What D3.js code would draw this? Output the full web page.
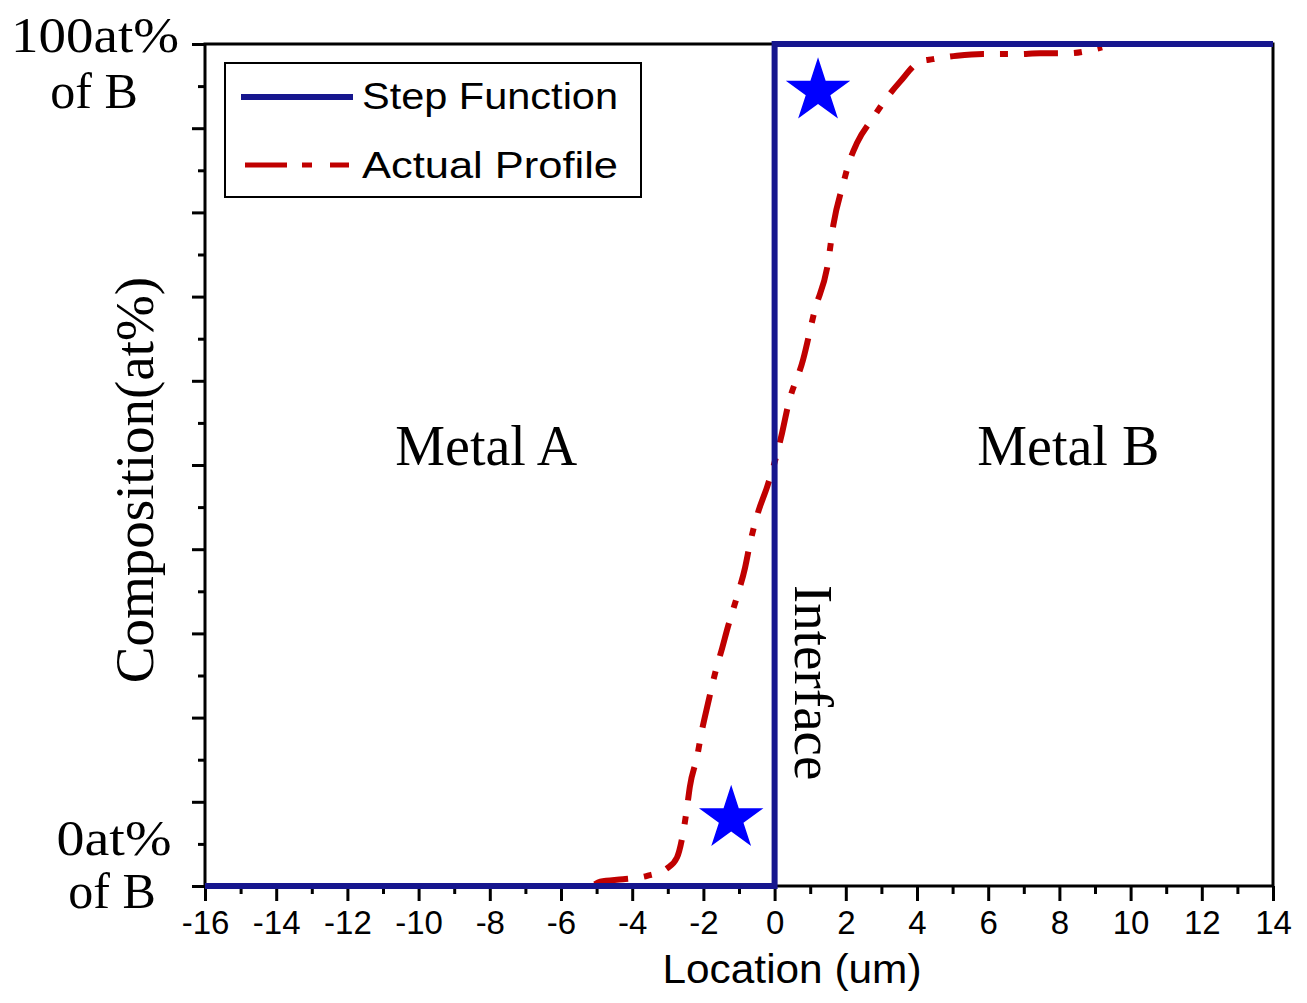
<!DOCTYPE html>
<html>
<head>
<meta charset="utf-8">
<script src="https://cdn.jsdelivr.net/npm/d3@7"></script>
<style>
  body { margin: 0; background: #fff; }
  .serif { font-family: "Liberation Serif", "DejaVu Serif", serif; fill: #000; }
  .sans { font-family: "Liberation Sans", Arial, sans-serif; fill: #000; }
</style>
</head>
<body>
<div id="chart"></div>
<script>
// step function (ideal interface)
var stepX = [-16, 0, 0, 14];
var stepY = [0, 0, 100, 100];

// actual diffusion profile
var profileX = [-5.05, -4.9, -4.26, -3.58, -3.02, -2.74, -2.57, -2.46, -2.38, -2.18, -2.04, -1.87, -1.67,
  -1.47, -1.31, -1.06, -0.83, -0.69, -0.47, -0.21, 0.07, 0.21, 0.38, 0.8, 1.13, 1.5, 1.65, 1.92, 2.09,
  2.31, 2.76, 3.15, 3.52, 4.08, 4.45, 5.12, 5.85, 6.81, 7.46, 8.22, 9.2];
var profileY = [0.2, 0.5, 0.8, 1.2, 2.1, 3.4, 6.3, 9.3, 11.8, 15.3, 18.5, 21.7, 25.3,
  28.3, 30.8, 34.3, 37.8, 40.7, 44.3, 47.4, 51.4, 53.8, 57.1, 62.5, 68.4, 74, 78.5, 83.3, 85.9,
  88.2, 91.2, 93.6, 95.5, 97.9, 98.2, 98.6, 98.8, 98.8, 98.9, 98.9, 99.6];

var starX = [1.22, -1.22];
var starY = [94.4, 8.0];

var xTicks = [-16, -14, -12, -10, -8, -6, -4, -2, 0, 2, 4, 6, 8, 10, 12, 14];
var xMinor = [-15, -13, -11, -9, -7, -5, -3, -1, 1, 3, 5, 7, 9, 11, 13];
var yMajor = [0, 10, 20, 30, 40, 50, 60, 70, 80, 90, 100];
var yMinor = [5, 15, 25, 35, 45, 55, 65, 75, 85, 95];

var regionNames = ["Metal A", "Metal B"];
var regionX = [-8.1, 8.25];
var regionY = [50, 50];

var legendNames = ["Step Function", "Actual Profile"];

var width = 1307;
var height = 1003;
var margin = {left: 205, top: 44, right: 34, bottom: 117};

var blue = "#16168e";
var red = "#c00000";
var dash = "34,16,8,16";

var svg = d3.select("#chart")
  .append("svg")
  .attr("width", width)
  .attr("height", height);

var x = d3.scaleLinear()
  .domain([-16, 14])
  .range([margin.left, width - margin.right]);

var y = d3.scaleLinear()
  .domain([0, 100])
  .range([height - margin.bottom, margin.top]);

var bottom = y(0);

// x axis: major with labels, minor without
var xAxis = svg.append("g")
  .attr("transform", "translate(0," + bottom + ")")
  .call(d3.axisBottom(x).tickValues(xTicks).tickSize(15).tickPadding(10).tickFormat(function(d) { return "" + d; }));
xAxis.select(".domain").remove();
xAxis.selectAll("line").attr("stroke-width", 3);
xAxis.selectAll("text")
  .attr("class", "sans")
  .attr("font-size", 33)
  .attr("font-family", null);

var xAxisMinor = svg.append("g")
  .attr("transform", "translate(0," + bottom + ")")
  .call(d3.axisBottom(x).tickValues(xMinor).tickSize(8).tickFormat(""));
xAxisMinor.select(".domain").remove();
xAxisMinor.selectAll("line").attr("stroke-width", 3);

// y axis ticks, no labels
var yAxis = svg.append("g")
  .attr("transform", "translate(" + margin.left + ",0)")
  .call(d3.axisLeft(y).tickValues(yMajor).tickSize(13).tickFormat(""));
yAxis.select(".domain").remove();
yAxis.selectAll("line").attr("stroke-width", 3);

var yAxisMinor = svg.append("g")
  .attr("transform", "translate(" + margin.left + ",0)")
  .call(d3.axisLeft(y).tickValues(yMinor).tickSize(7).tickFormat(""));
yAxisMinor.select(".domain").remove();
yAxisMinor.selectAll("line").attr("stroke-width", 3);

// frame
svg.append("rect")
  .attr("x", x(-16))
  .attr("y", y(100))
  .attr("width", x(14) - x(-16))
  .attr("height", y(0) - y(100))
  .attr("fill", "none")
  .attr("stroke", "#000")
  .attr("stroke-width", 3);

// lines
var line = d3.line()
  .x(function(d) { return x(d[0]); })
  .y(function(d) { return y(d[1]); });

svg.append("path")
  .datum(d3.zip(profileX, profileY))
  .attr("d", line.curve(d3.curveMonotoneX))
  .attr("fill", "none")
  .attr("stroke", red)
  .attr("stroke-width", 6)
  .attr("stroke-dasharray", dash);

svg.append("path")
  .datum(d3.zip(stepX, stepY))
  .attr("d", line.curve(d3.curveLinear))
  .attr("fill", "none")
  .attr("stroke", blue)
  .attr("stroke-width", 6);

// stars
svg.selectAll(".star")
  .data(d3.zip(starX, starY))
  .enter()
  .append("path")
  .attr("class", "star")
  .attr("d", d3.symbol().type(d3.symbolStar).size(1290))
  .attr("transform", function(d) { return "translate(" + x(d[0]) + "," + y(d[1]) + ")"; })
  .attr("fill", "#0000ff");

// region labels
svg.selectAll(".region")
  .data(regionNames)
  .enter()
  .append("text")
  .attr("class", "serif")
  .attr("x", function(d, i) { return x(regionX[i]); })
  .attr("y", function(d, i) { return y(regionY[i]); })
  .attr("text-anchor", "middle")
  .attr("font-size", 56)
  .text(function(d) { return d; });

svg.append("text")
  .attr("class", "serif")
  .attr("transform", "translate(" + (x(0) + 20) + "," + 585 + ") rotate(90)")
  .attr("font-size", 55)
  .text("Interface");

// y end labels
var yEnd = svg.append("g").attr("class", "serif").attr("font-size", 50).attr("text-anchor", "middle");
yEnd.append("text").attr("x", 95).attr("y", 52).attr("textLength", 168).attr("lengthAdjust", "spacingAndGlyphs").text("100at%");
yEnd.append("text").attr("x", 94).attr("y", 108).text("of B");
yEnd.append("text").attr("x", 114).attr("y", 855).attr("textLength", 115).attr("lengthAdjust", "spacingAndGlyphs").text("0at%");
yEnd.append("text").attr("x", 112).attr("y", 908).text("of B");

// axis titles
svg.append("text")
  .attr("class", "serif")
  .attr("transform", "translate(153,480) rotate(-90)")
  .attr("text-anchor", "middle")
  .attr("font-size", 55)
  .text("Composition(at%)");

svg.append("text")
  .attr("class", "sans")
  .attr("x", 792)
  .attr("y", 983)
  .attr("text-anchor", "middle")
  .attr("font-size", 40)
  .attr("textLength", 259)
  .attr("lengthAdjust", "spacingAndGlyphs")
  .text("Location (um)");

// legend
var legend = svg.append("g");
legend.append("rect")
  .attr("x", 225).attr("y", 63)
  .attr("width", 416).attr("height", 134)
  .attr("fill", "#fff")
  .attr("stroke", "#000")
  .attr("stroke-width", 2);

var legendColors = [blue, red];
var legendDash = [null, dash];
var legendRows = legend.selectAll(".row")
  .data(legendNames)
  .enter()
  .append("g")
  .attr("transform", function(d, i) { return "translate(0," + (i * 68) + ")"; });

legendRows.append("line")
  .attr("x1", function(d, i) { return i ? 245 : 241; })
  .attr("x2", function(d, i) { return i ? 349 : 353; })
  .attr("y1", 97).attr("y2", 97)
  .attr("stroke", function(d, i) { return legendColors[i]; })
  .attr("stroke-width", function(d, i) { return i ? 5 : 6; })
  .attr("stroke-dasharray", function(d, i) { return legendDash[i] ? "42,15,10,18" : null; });

legendRows.append("text")
  .attr("class", "sans")
  .attr("x", 362)
  .attr("y", function(d, i) { return i ? 110 : 109; })
  .attr("font-size", 36)
  .attr("textLength", 256)
  .attr("lengthAdjust", "spacingAndGlyphs")
  .text(function(d) { return d; });
</script>
</body>
</html>
